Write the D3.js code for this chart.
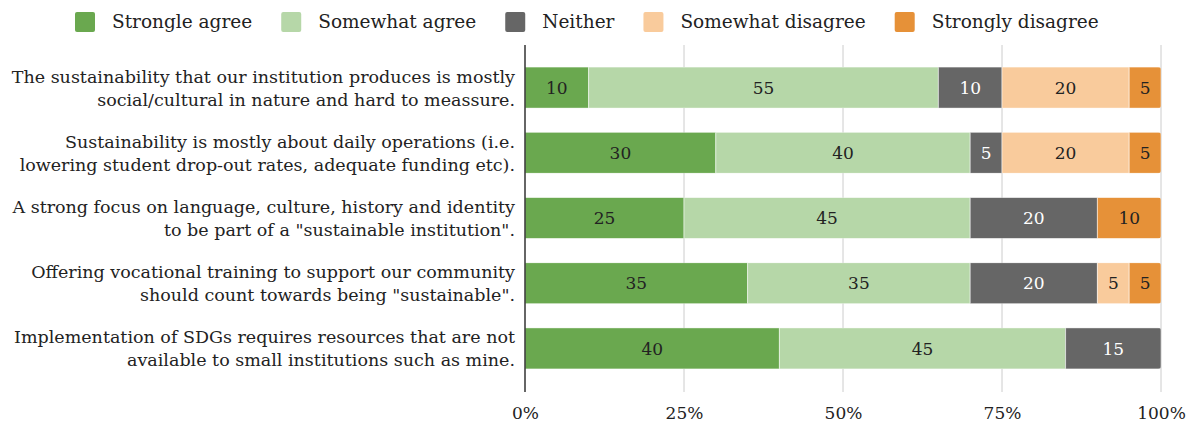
<!DOCTYPE html>
<html>
<head>
<meta charset="utf-8">
<script src="https://cdn.jsdelivr.net/npm/d3@7"></script>
<style>
  html, body { margin: 0; padding: 0; background: #fff; }
  svg { display: block; }
  text { font-family: "DejaVu Serif", Georgia, serif; }
</style>
</head>
<body>
<svg id="chart" width="1198" height="428"></svg>
<script>
// Survey statements (each drawn on two lines)
const statements = [
  ["The sustainability that our institution produces is mostly", "social/cultural in nature and hard to meassure."],
  ["Sustainability is mostly about daily operations (i.e.", "lowering student drop-out rates, adequate funding etc)."],
  ["A strong focus on language, culture, history and identity", "to be part of a \"sustainable institution\"."],
  ["Offering vocational training to support our community", "should count towards being \"sustainable\"."],
  ["Implementation of SDGs requires resources that are not", "available to small institutions such as mine."]
];

// Response categories and their colours
const responses = ["Strongle agree", "Somewhat agree", "Neither", "Somewhat disagree", "Strongly disagree"];
const colors = ["#6aa84f", "#b6d7a8", "#666666", "#f9cb9c", "#e69138"];
const labelColors = ["#222", "#222", "#fff", "#222", "#222"];

// Percent of respondents per statement, one array per response category
const stronglyAgree    = [10, 30, 25, 35, 40];
const somewhatAgree    = [55, 40, 45, 35, 45];
const neither          = [10,  5, 20, 20, 15];
const somewhatDisagree = [20, 20,  0,  5,  0];
const stronglyDisagree = [ 5,  5, 10,  5,  0];

const tickValues = [0, 25, 50, 75, 100];
const tickLabels = ["0%", "25%", "50%", "75%", "100%"];

const series = [stronglyAgree, somewhatAgree, neither, somewhatDisagree, stronglyDisagree];

const svg = d3.select("#chart");

const x = d3.scaleLinear().domain([0, 100]).range([525, 1161]);
const y = d3.scaleBand()
  .domain(d3.range(statements.length))
  .range([55, 381])
  .paddingInner(0.37)
  .paddingOuter(0.185);

// Gridlines
svg.append("g")
  .selectAll("line")
  .data(tickValues.slice(1))
  .join("line")
  .attr("x1", d => x(d)).attr("x2", d => x(d))
  .attr("y1", 45).attr("y2", 392)
  .attr("stroke", "#cccccc")
  .attr("stroke-width", 1);

// Stack the categories
const rows = statements.map((s, i) => {
  let acc = 0;
  return series.map((arr, k) => {
    const v = arr[i];
    const seg = { row: i, cat: k, v, x0: acc, x1: acc + v };
    acc += v;
    return seg;
  });
});

const defs = svg.append("defs");
rows.forEach((segs, i) => {
  const total = d3.max(segs, s => s.x1);
  defs.append("clipPath").attr("id", "clip" + i)
    .append("rect")
    .attr("x", x(0) - 4)
    .attr("y", y(i))
    .attr("width", x(total) - x(0) + 4)
    .attr("height", y.bandwidth())
    .attr("rx", 3);
});

const barG = svg.append("g");
rows.forEach((segs, i) => {
  const g = barG.append("g").attr("clip-path", `url(#clip${i})`);
  g.selectAll("rect")
    .data(segs.filter(s => s.v > 0))
    .join("rect")
    .attr("x", s => x(s.x0))
    .attr("y", y(i))
    .attr("width", s => x(s.x1) - x(s.x0))
    .attr("height", y.bandwidth())
    .attr("fill", s => colors[s.cat])
    .attr("stroke", "rgba(255,255,255,0.5)")
    .attr("stroke-width", 1);

  barG.append("g").selectAll("text")
    .data(segs.filter(s => s.v > 0))
    .join("text")
    .attr("x", s => (x(s.x0) + x(s.x1)) / 2)
    .attr("y", y(i) + y.bandwidth() / 2)
    .attr("dy", "0.36em")
    .attr("text-anchor", "middle")
    .attr("font-size", 17)
    .attr("fill", s => labelColors[s.cat])
    .text(s => s.v);
});

// Y axis line
svg.append("line")
  .attr("x1", x(0)).attr("x2", x(0))
  .attr("y1", 45).attr("y2", 392)
  .attr("stroke", "#333")
  .attr("stroke-width", 1.5);

// Statement labels
const lab = svg.append("g").selectAll("text")
  .data(statements)
  .join("text")
  .attr("text-anchor", "end")
  .attr("font-size", 17.5)
  .attr("fill", "#222");
lab.each(function(d, i) {
  const t = d3.select(this);
  const cy = y(i) + y.bandwidth() / 2;
  d.forEach((line, j) => {
    t.append("tspan")
      .attr("x", 515)
      .attr("y", cy + (j === 0 ? -5 : 18))
      .text(line);
  });
});

// X axis tick labels
const xAxis = d3.axisBottom(x)
  .tickValues(tickValues)
  .tickFormat((d, i) => tickLabels[i])
  .tickSize(0)
  .tickPadding(0);
const ax = svg.append("g").attr("transform", "translate(0,407)").call(xAxis);
ax.select(".domain").remove();
ax.selectAll("text")
  .attr("font-family", "DejaVu Serif, Georgia, serif")
  .attr("font-size", 17)
  .attr("fill", "#222");

// Legend
const legend = svg.append("g");
let lx = 75;
responses.forEach((r, k) => {
  const g = legend.append("g");
  g.append("rect")
    .attr("x", lx).attr("y", 12)
    .attr("width", 20).attr("height", 20)
    .attr("rx", 2)
    .attr("fill", colors[k]);
  const t = g.append("text")
    .attr("x", lx + 37).attr("y", 22)
    .attr("dy", "0.35em")
    .attr("font-size", 18.5)
    .attr("fill", "#222")
    .text(r);
  lx += 37 + t.node().getComputedTextLength() + 29;
});
</script>
</body>
</html>
